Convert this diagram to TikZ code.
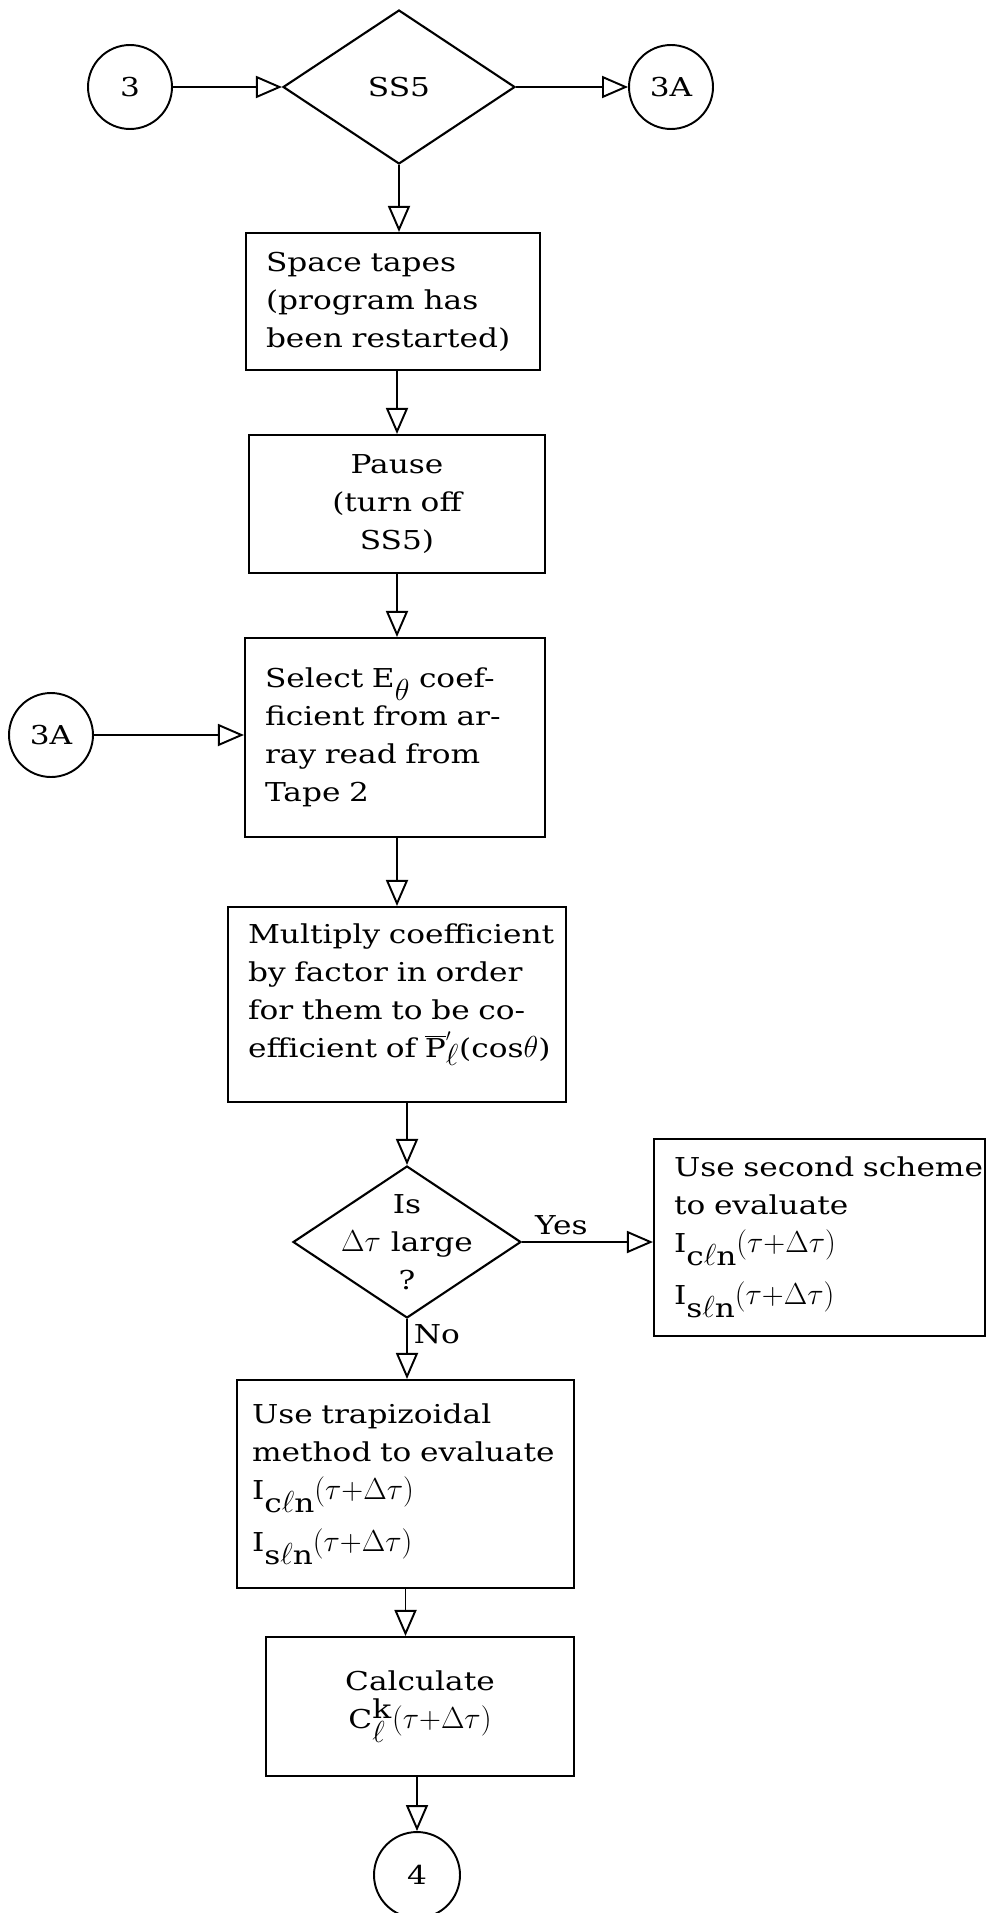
\documentclass[tikz,border=0pt]{standalone}
\usepackage{fontspec}
\setmainfont[FakeStretch=1.2]{DejaVu Serif}
\usetikzlibrary{shapes.geometric, arrows.meta, positioning}
\newcommand{\lowr}[1]{\raisebox{-0.5em}{#1}}
\newcommand{\mth}[1]{{\fontsize{18.5}{21.6}\selectfont$#1$}}
\newcommand{\dtau}{\mth{(\tau{+}\Delta\tau)}}

\begin{document}
\begin{tikzpicture}[x=0.02cm, y=-0.02cm,
    every node/.style={font=\fontsize{14.8}{21.6}\selectfont},
    box/.style={draw, rectangle, line width=1.2pt, inner xsep=0.4cm, inner ysep=0pt},
    conn/.style={draw, circle, line width=1.1pt, minimum size=1.68cm, inner sep=0pt},
    decision/.style={draw, diamond, line width=1.2pt, inner sep=-0.4cm},
    flow/.style={-{Triangle[open, length=0.52cm, width=0.44cm]}, line width=1.1pt}]
    \useasboundingbox (0,0) rectangle (987,1913);
    % Entry connectors and the SS5 switch
    \node[conn] (c3) at (130,87) {3};
    \node[decision, minimum width=4.64cm, minimum height=3.08cm] (ss5) at (399,87) {SS5};
    \node[conn] (c3a) at (671,87) {3A};
    \node[conn] (c3aIn) at (51,735) {3A};
    % Process boxes
    \node[box, text width=5.08cm, minimum height=2.74cm, align=left] (space) at (393,301.5) {Space tapes\\(program has\\been restarted)};
    \node[box, text width=5.12cm, minimum height=2.76cm, align=center] (pause) at (397,504) {Pause\\(turn off\\SS5)};
    \node[box, text width=5.2cm, minimum height=3.98cm, align=left] (select) at (395,737.5) {Select E$_{\mbox{\mth{\theta}}}$ coef-\\ficient from ar-\\ray read from\\Tape 2};
    \node[box, text width=5.96cm, minimum height=3.9cm, align=left] (multiply) at (397,1004.5) {\mbox{Multiply coefficient}\\by factor in order\\for them to be co-\\\mbox{efficient of $\overline{\mbox{P}}'_{\mbox{\mth{\ell}}}$(cos\mth{\theta})}\\[-6pt]\mbox{}};
    \node[decision, minimum width=4.56cm, minimum height=3.04cm, align=center] (isq) at (407,1242) {Is\\\mth{\Delta\tau} large\\?};
    \node[box, text width=5.82cm, minimum height=3.94cm, align=left] (second) at (819.5,1237.5) {\mbox{Use second scheme}\\to evaluate\\I\lowr{c\mth{\ell}n}\dtau\\[8pt]I\lowr{s\mth{\ell}n}\dtau};
    \node[box, inner xsep=0.3cm, text width=6.14cm, minimum height=4.16cm, align=left] (trap) at (405.5,1484) {Use trapizoidal\\\mbox{method to evaluate}\\I\lowr{c\mth{\ell}n}\dtau\\[8pt]I\lowr{s\mth{\ell}n}\dtau};
    \node[box, text width=5.36cm, minimum height=2.78cm, align=center] (calc) at (420,1706.5) {Calculate\\C$^{\mbox{k}}_{\mbox{\mth{\ell}}}$\dtau};
    \node[conn, minimum size=1.72cm] (c4) at (417,1875) {4};
    % Flow lines
    \draw[flow] (c3) -- (ss5);
    \draw[flow] (ss5) -- (c3a);
    \draw[flow] (ss5.south) -- (ss5.south |- space.north);
    \draw[flow] (space.south -| pause.north) -- (pause.north);
    \draw[flow] (pause.south) -- (pause.south |- select.north);
    \draw[flow] (c3aIn) -- (c3aIn -| select.west);
    \draw[flow] (select.south -| multiply.north) -- (multiply.north);
    \draw[flow] (multiply.south -| isq.north) -- (isq.north);
    \draw[flow] (isq.east) -- node[above, pos=0.3] {Yes} (isq.east -| second.west);
    \draw[flow] (isq.south) -- node[right, pos=0.25] {No} (isq.south |- trap.north);
    \draw[flow] (trap.south) -- (trap.south |- calc.north);
    \draw[flow] (calc.south -| c4.north) -- (c4.north);
\end{tikzpicture}
\end{document}
